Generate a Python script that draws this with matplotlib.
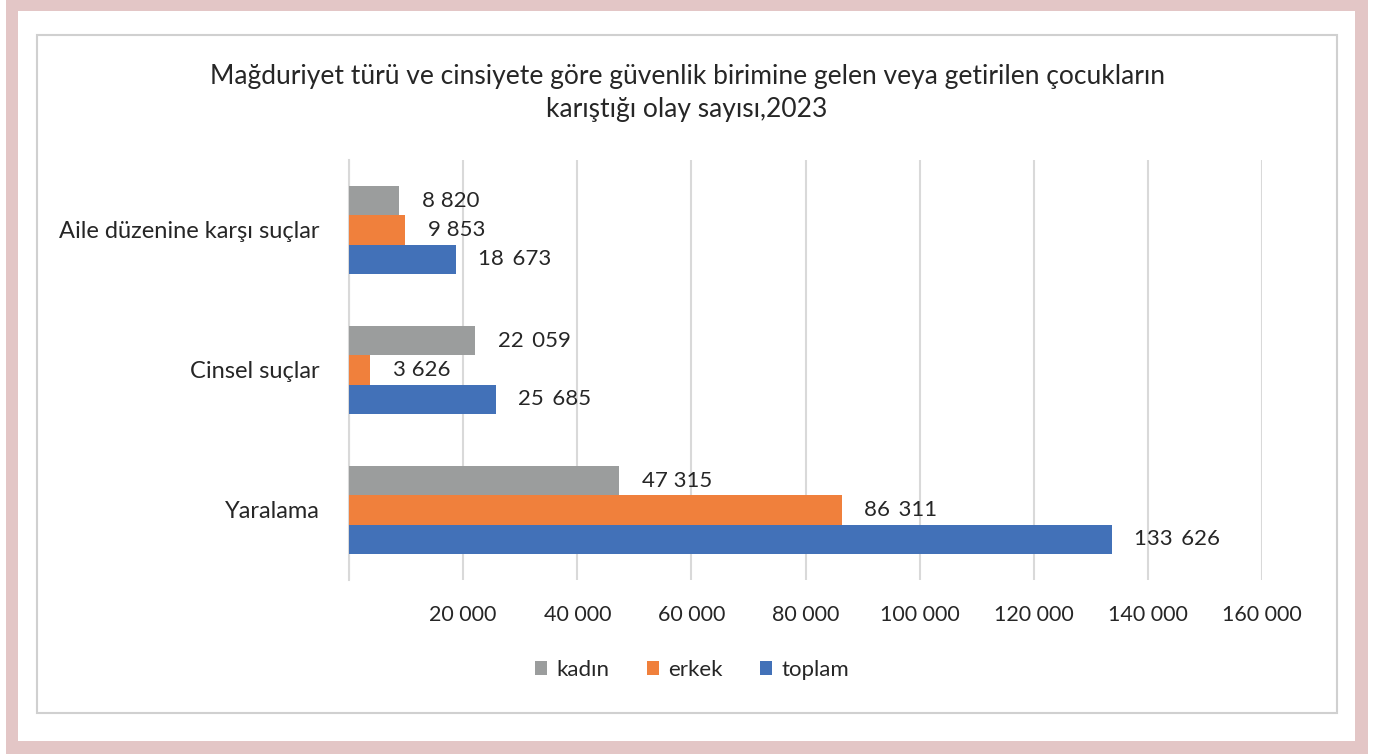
import matplotlib.pyplot as plt
import matplotlib.patches as patches
import numpy as np

categories = ['Yaralama', 'Cinsel suçlar', 'Aile düzenine karşı suçlar']
kadin = [47315, 22059, 8820]
erkek = [86311, 3626, 9853]
toplam = [133626, 25685, 18673]
series_names = ['kadın', 'erkek', 'toplam']
colors = ['#9B9D9D', '#F0803C', '#4271B8']
x_ticks = [0, 20000, 40000, 60000, 80000, 100000, 120000, 140000, 160000]

title = ('Mağduriyet türü ve cinsiyete göre güvenlik birimine gelen veya getirilen çocukların\n'
         'karıştığı olay sayısı,2023')

plt.rcParams['font.family'] = ['Lato', 'DejaVu Sans']
txt_color = '#262626'

W, H = 1384, 754
fig = plt.figure(figsize=(W / 100, H / 100), dpi=100)


def fx(px):
    return px / W


def fy(py):
    return 1 - py / H


def fmt(v):
    s = f'{v:,}'
    if v >= 10000 and v != 47315:
        return s.replace(',', ' \u2009')
    return s.replace(',', ' ')


# pink frame, white inner area, gray chart box
fig.patches.append(patches.Rectangle((fx(6), 0), fx(1368) - fx(6), 1, transform=fig.transFigure,
                                     facecolor='#E3C6C6', edgecolor='none', zorder=-3))
fig.patches.append(patches.Rectangle((fx(18), fy(741)), fx(1355) - fx(18), fy(11) - fy(741),
                                     transform=fig.transFigure, facecolor='white', edgecolor='none', zorder=-2))
fig.patches.append(patches.Rectangle((fx(37), fy(713)), fx(1337) - fx(37), fy(35) - fy(713),
                                     transform=fig.transFigure, facecolor='white', edgecolor='#D0D0D0',
                                     linewidth=1.5, zorder=-1))

ax = fig.add_axes([fx(349), fy(580), fx(1262) - fx(349), fy(160) - fy(580)])
ax.set_facecolor('none')

y = np.arange(len(categories))
h = 0.21
for vals, off, col, name in zip([kadin, erkek, toplam], [h, 0, -h], colors, series_names):
    bars = ax.barh(y + off, vals, height=h, color=col, label=name, zorder=3)
    for b, v in zip(bars, vals):
        ax.text(b.get_width() + 4000, b.get_y() + b.get_height() / 2, fmt(v),
                va='center', ha='left', fontsize=16, color=txt_color)

ax.set_xlim(0, 160000)
ax.set_ylim(-0.5, 2.5)
ax.set_xticks(x_ticks)
ax.set_xticklabels([''] + [f'{t:,}'.replace(',', ' ') for t in x_ticks[1:]], fontsize=15.5, color=txt_color)
ax.set_yticks(y)
ax.set_yticklabels(categories, fontsize=17, color=txt_color)
ax.tick_params(axis='x', length=0, pad=18)
ax.tick_params(axis='y', length=0, pad=21)
ax.grid(axis='x', color='#D9D9D9', linewidth=1.5, zorder=0)
for s in ['top', 'right', 'bottom']:
    ax.spines[s].set_visible(False)
ax.spines['left'].set_color('#D9D9D9')
ax.spines['left'].set_linewidth(1.5)

fig.text(fx(687), fy(93), title, ha='center', va='center', fontsize=19, color=txt_color,
         linespacing=1.4)

handles, labels = ax.get_legend_handles_labels()
fig.legend(handles, labels, loc='center', bbox_to_anchor=(fx(692), fy(670)), ncol=3, frameon=False,
           fontsize=16, handlelength=0.55, handleheight=0.55, handletextpad=0.4, columnspacing=1.7,
           labelcolor=txt_color)

fig.savefig('out.png', dpi=100)
